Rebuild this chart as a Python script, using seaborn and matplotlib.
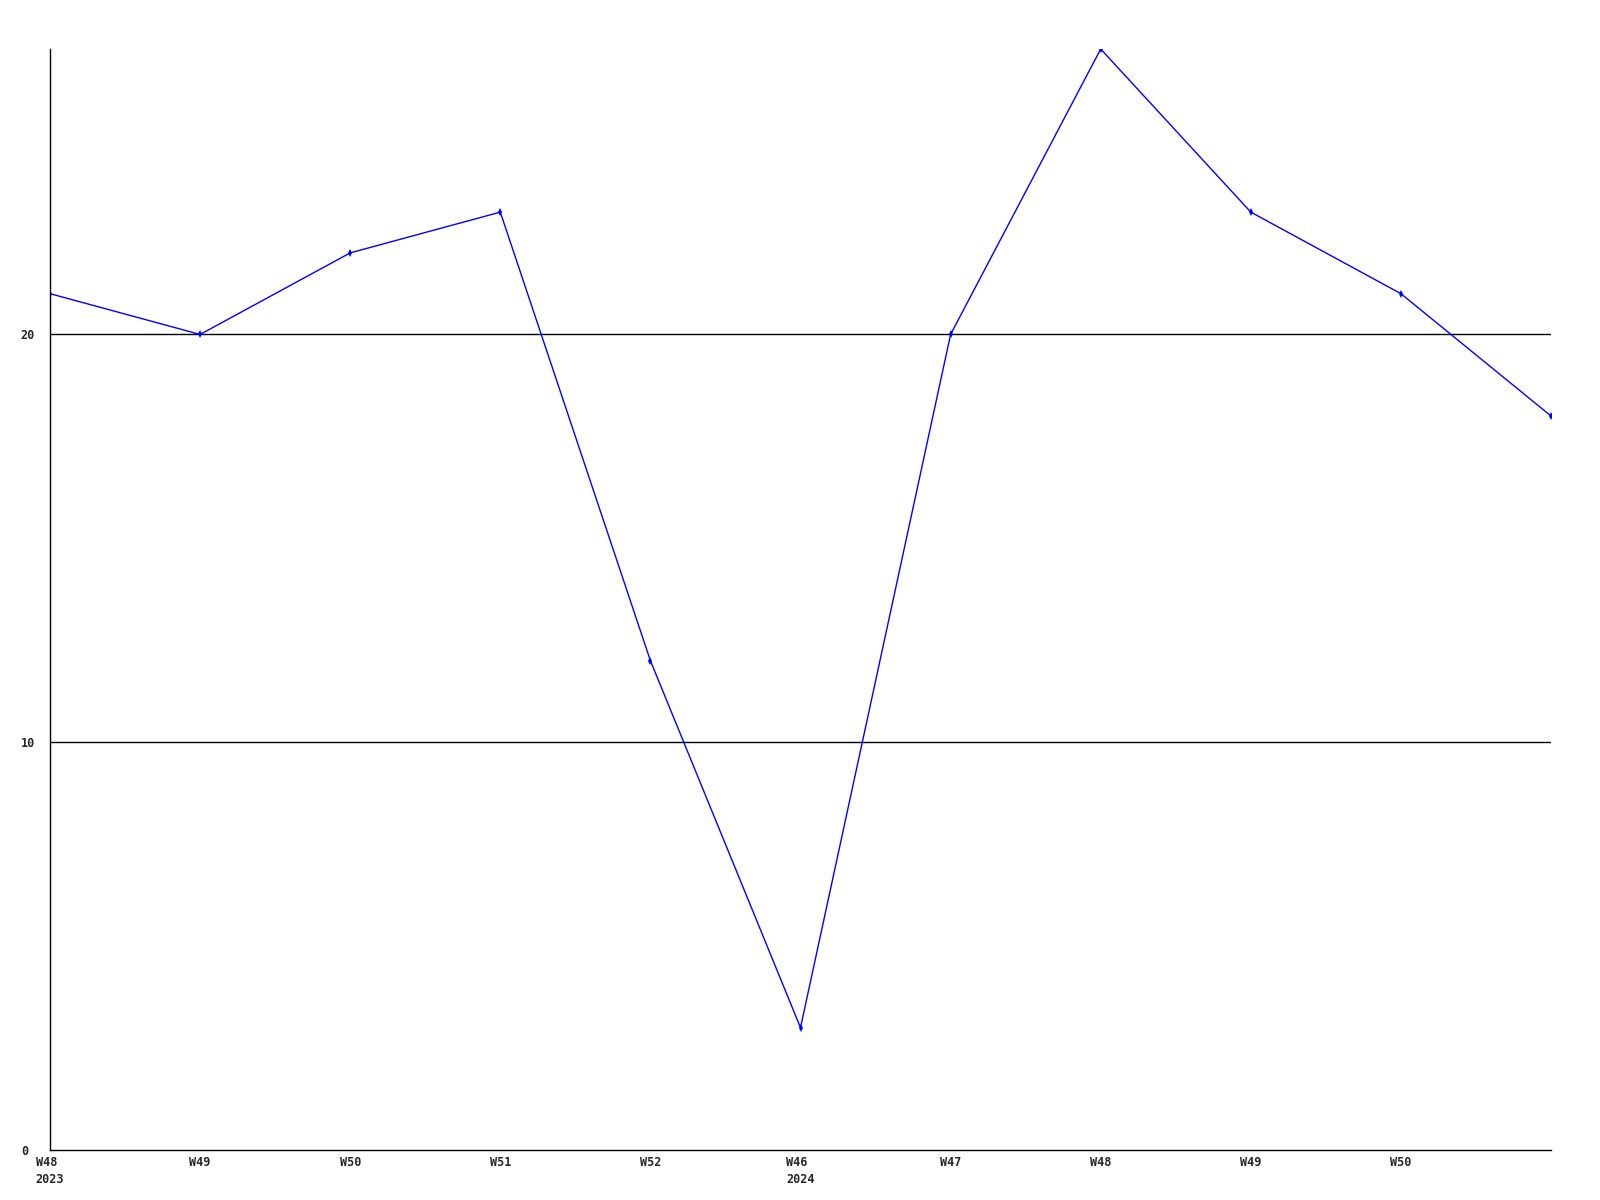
import matplotlib

matplotlib.use("Agg")

import matplotlib.pyplot as plt
import pandas as pd
import seaborn as sns

weeks = ["W48", "W49", "W50", "W51", "W52", "W46", "W47", "W48", "W49", "W50", "W51"]
years = ["2023", "", "", "", "", "2024", "", "", "", "", ""]
values = [21, 20, 22, 23, 12, 3, 20, 27, 23, 21, 18]
y_ticks = [0, 10, 20]

data = pd.DataFrame({"pos": range(len(values)), "value": values})

sns.set_theme(style="white")
plt.rcParams["font.family"] = ["DejaVu Sans Mono", "DejaVu Sans"]

fig = plt.figure(figsize=(16, 12), dpi=100)
ax = fig.add_axes([50 / 1600, 50 / 1200, 1501 / 1600, 1101 / 1200])

sns.lineplot(
    data=data,
    x="pos",
    y="value",
    color="#0000ff",
    linewidth=1,
    marker="d",
    markersize=4,
    markeredgewidth=0,
    ax=ax,
)

# horizontal reference lines
for v in y_ticks[1:]:
    ax.axhline(v, color="black", linewidth=1, zorder=0)

ax.set_xlim(0, len(values) - 1)
ax.set_ylim(0, 27)
ax.set_xlabel("")
ax.set_ylabel("")

tick_pos = list(range(len(values) - 1))
labels = [w + ("\n" + y if y else "") for w, y in zip(weeks[:-1], years[:-1])]
ax.set_xticks(tick_pos)
ax.set_xticklabels(
    labels,
    fontsize=8.5,
    fontweight="bold",
    ha="center",
    multialignment="left",
    linespacing=1.4,
)

ax.set_yticks(y_ticks)
ax.set_yticklabels([str(v) for v in y_ticks], fontsize=8.5, fontweight="bold", ha="left")
ax.tick_params(axis="x", length=0, pad=4)
ax.tick_params(axis="y", length=0, pad=21)

for side in ["top", "right"]:
    ax.spines[side].set_visible(False)
for side in ["left", "bottom"]:
    ax.spines[side].set_color("black")
    ax.spines[side].set_linewidth(1)

fig.savefig("out.png", dpi=100)
